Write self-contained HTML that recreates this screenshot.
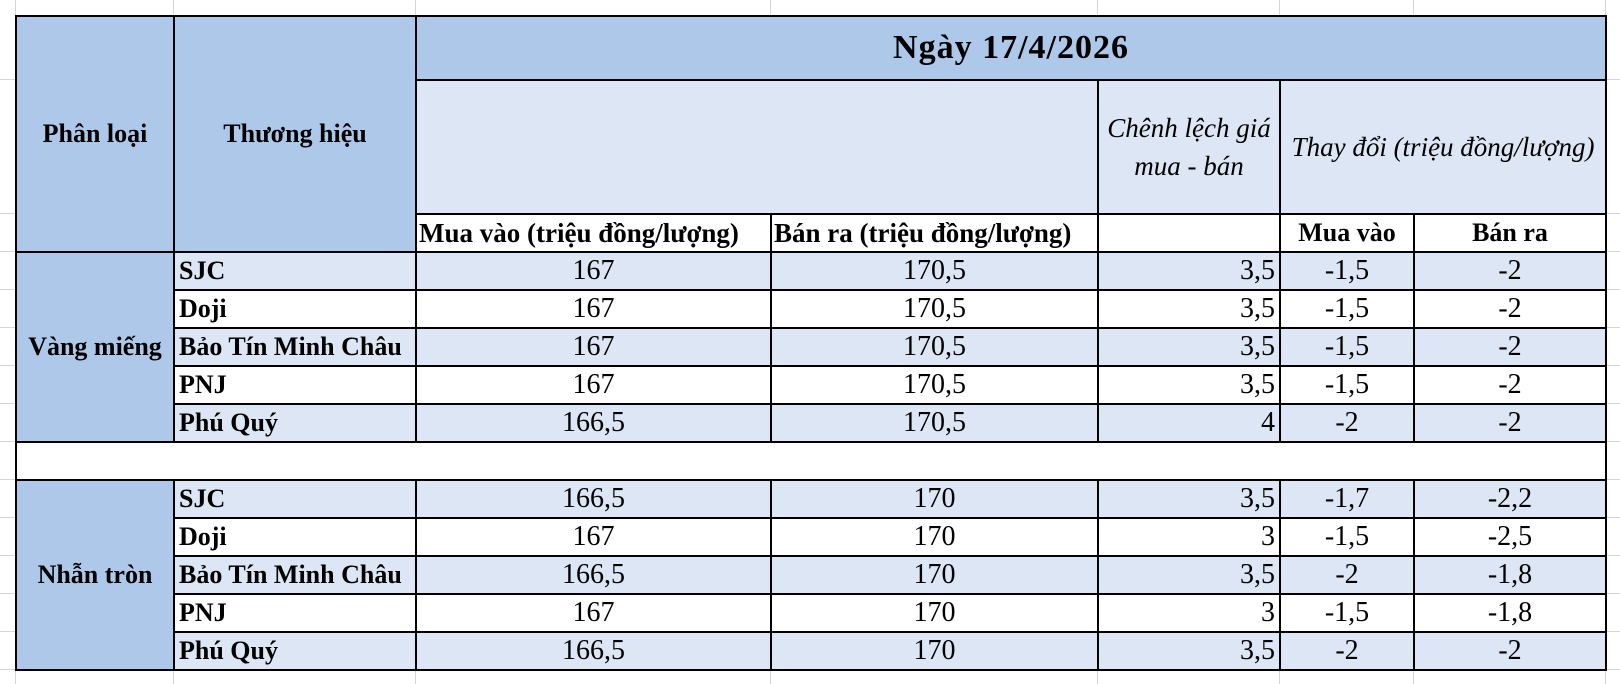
<!DOCTYPE html>
<html><head><meta charset="utf-8"><style>
body{margin:0;width:1620px;height:684px;background:#fff;position:relative;overflow:hidden;font-family:"Liberation Serif",serif;}
.v{position:absolute;top:0;height:684px;width:1px;background:#d4d4d4}
.h{position:absolute;left:0;width:1620px;height:1px;background:#d4d4d4}
table{position:absolute;left:15px;top:15px;border-collapse:collapse;table-layout:fixed;}
td{border:2px solid #000;padding:0 4px;font-size:26px;color:#000;overflow:hidden;white-space:nowrap;box-sizing:border-box}
.d{background:#adc8e8}.l{background:#dce6f4}.w{background:#fff}
.b{font-weight:bold}.c{text-align:center}.r{text-align:right}.i{font-style:italic}
.n{font-size:28px}
tr.r38 td{height:38px;line-height:36px}
</style></head><body>
<div class="v" style="left:15px"></div><div class="v" style="left:173px"></div><div class="v" style="left:415px"></div><div class="v" style="left:770px"></div><div class="v" style="left:1097px"></div><div class="v" style="left:1279px"></div><div class="v" style="left:1413px"></div><div class="v" style="left:1605px"></div>
<div class="h" style="top:79px"></div><div class="h" style="top:213px"></div><div class="h" style="top:251px"></div><div class="h" style="top:289px"></div><div class="h" style="top:327px"></div><div class="h" style="top:365px"></div><div class="h" style="top:403px"></div><div class="h" style="top:441px"></div><div class="h" style="top:479px"></div><div class="h" style="top:517px"></div><div class="h" style="top:555px"></div><div class="h" style="top:593px"></div><div class="h" style="top:631px"></div><div class="h" style="top:669px"></div>
<table>
<colgroup><col style="width:158px"><col style="width:242px"><col style="width:355px"><col style="width:327px"><col style="width:182px"><col style="width:134px"><col style="width:192px"></colgroup>
<tr><td class="d b c" rowspan="3" style="height:236px">Phân loại</td><td class="d b c" rowspan="3">Thương hiệu</td><td class="d b c" colspan="5" style="height:64px;font-size:34px;letter-spacing:1px">Ngày 17/4/2026</td></tr>
<tr><td class="l" colspan="2" style="height:134px"></td><td class="l i c" style="line-height:38px;white-space:normal;font-size:27px">Chênh lệch giá<br>mua - bán</td><td class="l i c" colspan="2" style="font-size:27px">Thay đổi (triệu đồng/lượng)</td></tr>
<tr class="r38"><td class="w b" style="vertical-align:bottom;padding:0 2px;font-size:27px">Mua vào (triệu đồng/lượng)</td><td class="w b" style="vertical-align:bottom;padding:0 2px;font-size:27px">Bán ra (triệu đồng/lượng)</td><td class="w"></td><td class="w b c">Mua vào</td><td class="w b c">Bán ra</td></tr>
<tr class="r38"><td class="d b c" rowspan="5">Vàng miếng</td><td class="l b">SJC</td><td class="l c n">167</td><td class="l c n">170,5</td><td class="l r n">3,5</td><td class="l c n">-1,5</td><td class="l c n">-2</td></tr>
<tr class="r38"><td class="w b">Doji</td><td class="w c n">167</td><td class="w c n">170,5</td><td class="w r n">3,5</td><td class="w c n">-1,5</td><td class="w c n">-2</td></tr>
<tr class="r38"><td class="l b">Bảo Tín Minh Châu</td><td class="l c n">167</td><td class="l c n">170,5</td><td class="l r n">3,5</td><td class="l c n">-1,5</td><td class="l c n">-2</td></tr>
<tr class="r38"><td class="w b">PNJ</td><td class="w c n">167</td><td class="w c n">170,5</td><td class="w r n">3,5</td><td class="w c n">-1,5</td><td class="w c n">-2</td></tr>
<tr class="r38"><td class="l b">Phú Quý</td><td class="l c n">166,5</td><td class="l c n">170,5</td><td class="l r n">4</td><td class="l c n">-2</td><td class="l c n">-2</td></tr>
<tr class="r38"><td class="w" colspan="7"></td></tr>
<tr class="r38"><td class="d b c" rowspan="5">Nhẫn tròn</td><td class="l b">SJC</td><td class="l c n">166,5</td><td class="l c n">170</td><td class="l r n">3,5</td><td class="l c n">-1,7</td><td class="l c n">-2,2</td></tr>
<tr class="r38"><td class="w b">Doji</td><td class="w c n">167</td><td class="w c n">170</td><td class="w r n">3</td><td class="w c n">-1,5</td><td class="w c n">-2,5</td></tr>
<tr class="r38"><td class="l b">Bảo Tín Minh Châu</td><td class="l c n">166,5</td><td class="l c n">170</td><td class="l r n">3,5</td><td class="l c n">-2</td><td class="l c n">-1,8</td></tr>
<tr class="r38"><td class="w b">PNJ</td><td class="w c n">167</td><td class="w c n">170</td><td class="w r n">3</td><td class="w c n">-1,5</td><td class="w c n">-1,8</td></tr>
<tr class="r38"><td class="l b">Phú Quý</td><td class="l c n">166,5</td><td class="l c n">170</td><td class="l r n">3,5</td><td class="l c n">-2</td><td class="l c n">-2</td></tr>
</table>
</body></html>
